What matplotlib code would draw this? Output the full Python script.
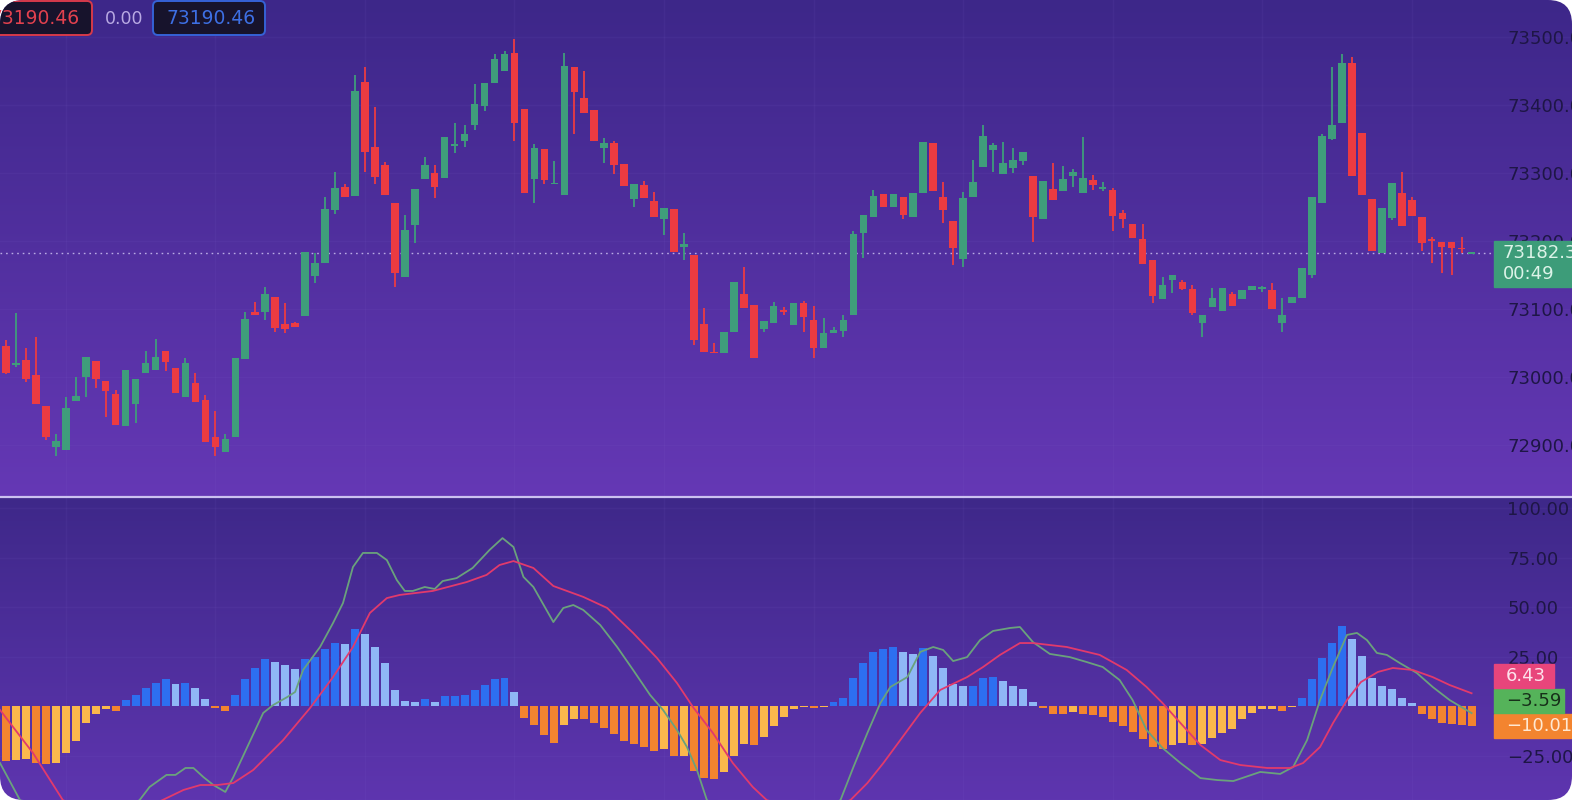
import numpy as np
import matplotlib
matplotlib.use("Agg")
import matplotlib.pyplot as plt
from matplotlib.patches import FancyBboxPatch, Rectangle
from matplotlib.ticker import FuncFormatter
from matplotlib.colors import to_rgb

# ---- candles (oldest first) ----
opens = [73046, 73017, 73025, 73003, 72957, 72897, 72893, 72965, 73000, 73024,
         72994, 72975, 72928, 72960, 73006, 73010, 73038, 73013, 72971, 72991,
         72966, 72912, 72890, 72912, 73026, 73096, 73096, 73118, 73078, 73079,
         73090, 73149, 73168, 73246, 73279, 73266, 73434, 73338, 73312, 73256,
         73147, 73224, 73291, 73300, 73293, 73340, 73347, 73371, 73399, 73432,
         73450, 73476, 73394, 73291, 73335, 73284, 73268, 73456, 73410, 73393,
         73337, 73344, 73313, 73262, 73282, 73259, 73232, 73247, 73191, 73179,
         73078, 73037, 73035, 73066, 73122, 73106, 73071, 73079, 73098, 73076,
         73109, 73084, 73043, 73065, 73068, 73091, 73212, 73235, 73269, 73250,
         73265, 73235, 73271, 73344, 73265, 73229, 73174, 73265, 73309, 73334,
         73299, 73307, 73318, 73296, 73232, 73276, 73274, 73296, 73271, 73290,
         73276, 73275, 73241, 73225, 73203, 73172, 73115, 73143, 73140, 73129,
         73079, 73103, 73097, 73122, 73115, 73128, 73130, 73128, 73079, 73109,
         73116, 73150, 73256, 73350, 73374, 73462, 73359, 73262, 73182, 73234,
         73271, 73260, 73235, 73203, 73199, 73199, 73190, 73181.5]
highs = [73054, 73094, 73043, 73059, 72957, 72916, 72971, 73000, 73029, 73024,
         72994, 72981, 73010, 72997, 73038, 73056, 73038, 73013, 73028, 73006,
         72973, 72950, 72916, 73028, 73096, 73110, 73132, 73118, 73109, 73081,
         73184, 73182, 73265, 73301, 73284, 73444, 73456, 73397, 73316, 73256,
         73238, 73276, 73324, 73312, 73353, 73374, 73371, 73431, 73432, 73475,
         73479, 73497, 73394, 73343, 73335, 73318, 73476, 73456, 73450, 73393,
         73351, 73347, 73313, 73284, 73288, 73272, 73249, 73247, 73212, 73179,
         73101, 73050, 73066, 73140, 73162, 73106, 73082, 73110, 73103, 73109,
         73112, 73104, 73087, 73074, 73091, 73215, 73238, 73275, 73269, 73269,
         73265, 73271, 73346, 73344, 73287, 73229, 73272, 73319, 73371, 73344,
         73346, 73337, 73331, 73296, 73288, 73315, 73310, 73306, 73353, 73297,
         73287, 73278, 73246, 73225, 73225, 73172, 73147, 73150, 73143, 73135,
         73091, 73131, 73131, 73125, 73128, 73134, 73134, 73138, 73116, 73118,
         73160, 73265, 73357, 73456, 73475, 73471, 73359, 73262, 73249, 73285,
         73301, 73265, 73235, 73206, 73199, 73199, 73206, 73183]
lows = [73004, 73015, 72993, 72960, 72907, 72884, 72893, 72965, 72971, 72984,
        72941, 72929, 72928, 72932, 73006, 73010, 73009, 72976, 72971, 72963,
        72904, 72884, 72890, 72912, 73026, 73091, 73084, 73066, 73065, 73073,
        73090, 73138, 73168, 73240, 73264, 73266, 73301, 73284, 73268, 73132,
        73147, 73197, 73291, 73263, 73293, 73329, 73338, 73363, 73391, 73432,
        73450, 73347, 73271, 73256, 73284, 73284, 73268, 73357, 73388, 73347,
        73315, 73299, 73281, 73250, 73263, 73235, 73209, 73184, 73172, 73047,
        73037, 73035, 73035, 73066, 73101, 73028, 73066, 73079, 73091, 73076,
        73066, 73028, 73043, 73065, 73059, 73091, 73175, 73235, 73250, 73250,
        73232, 73235, 73271, 73274, 73226, 73165, 73162, 73265, 73309, 73301,
        73299, 73300, 73312, 73199, 73232, 73260, 73274, 73279, 73271, 73275,
        73274, 73215, 73219, 73204, 73166, 73109, 73115, 73124, 73128, 73091,
        73059, 73103, 73097, 73104, 73115, 73128, 73125, 73100, 73066, 73109,
        73116, 73146, 73256, 73349, 73374, 73296, 73268, 73185, 73182, 73231,
        73222, 73237, 73185, 73168, 73153, 73150, 73182, 73181]
closes = [73006, 73020, 72997, 72960, 72912, 72906, 72954, 72972, 73029, 72997,
          72979, 72929, 73010, 72997, 73021, 73029, 73022, 72976, 73021, 72963,
          72904, 72897, 72909, 73028, 73085, 73091, 73122, 73072, 73071, 73074,
          73184, 73168, 73247, 73278, 73265, 73421, 73331, 73294, 73268, 73153,
          73216, 73276, 73312, 73279, 73353, 73343, 73357, 73401, 73432, 73468,
          73475, 73374, 73271, 73337, 73290, 73285, 73457, 73419, 73388, 73347,
          73344, 73312, 73281, 73284, 73263, 73235, 73249, 73184, 73196, 73054,
          73037, 73035, 73066, 73140, 73101, 73028, 73082, 73104, 73096, 73109,
          73088, 73043, 73065, 73069, 73084, 73210, 73238, 73266, 73250, 73269,
          73238, 73271, 73346, 73274, 73246, 73190, 73263, 73287, 73354, 73341,
          73315, 73319, 73331, 73235, 73288, 73260, 73291, 73301, 73293, 73282,
          73279, 73237, 73232, 73204, 73166, 73119, 73135, 73150, 73129, 73094,
          73091, 73116, 73131, 73104, 73128, 73134, 73133, 73100, 73091, 73118,
          73160, 73265, 73354, 73371, 73462, 73296, 73268, 73185, 73249, 73285,
          73222, 73237, 73197, 73200, 73191, 73190, 73188, 73182.3]
countdown = "00:49"
price_ticks = [72900, 73000, 73100, 73200, 73300, 73400, 73500]

# ---- MACD panel ----
hist = [-27.8, -27.5, -26.9, -28.6, -29.5, -28.6, -23.6, -17.7, -8.4, -3.9,
        -1.7, -2.5, 2.9, 5.6, 9.3, 11.8, 13.5, 10.9, 11.8, 9.3,
        3.4, -1.2, -2.5, 5.6, 13.8, 19.4, 23.6, 22.2, 20.7, 18.5,
        23.9, 24.9, 29.0, 32.0, 31.5, 39.1, 36.2, 29.8, 21.5, 8.1,
        2.7, 2.0, 3.7, 2.0, 5.1, 5.3, 5.7, 8.1, 10.4, 13.5,
        14.0, 7.2, -5.9, -9.6, -14.6, -18.5, -9.6, -6.4, -6.7, -8.4,
        -10.9, -14.0, -17.7, -19.0, -20.7, -22.7, -21.9, -25.3, -25.0, -32.8,
        -36.2, -37.0, -33.3, -25.3, -19.4, -19.9, -15.5, -10.1, -5.6, -1.7,
        -0.3, -1.2, -0.3, 2.0, 4.2, 14.0, 21.5, 27.3, 29.0, 29.8,
        27.4, 26.1, 29.1, 25.3, 19.4, 10.9, 10.1, 10.3, 14.0, 14.8,
        12.6, 10.1, 8.4, 2.0, -1.2, -3.9, -4.0, -3.0, -3.9, -4.7,
        -5.4, -8.1, -10.1, -13.0, -16.5, -20.5, -21.9, -19.9, -18.9, -19.9,
        -19.0, -16.0, -13.8, -11.4, -6.7, -3.4, -1.7, -1.3, -2.5, -0.5,
        4.2, 13.8, 24.4, 32.0, 40.4, 33.7, 25.3, 14.3, 10.1, 8.8,
        4.2, 1.3, -3.9, -6.4, -8.4, -9.3, -9.6, -10.01]
macd_x = [-0.6, 1.4, 5.4, 9.4, 13.4, 14.4, 16.1, 17.0, 18.0, 18.8, 19.8, 20.8, 22.0,
          22.8, 24.2, 25.8, 26.8, 28.2, 29.0, 29.8, 31.5, 32.8, 33.8, 34.8, 35.8,
          37.2, 38.2, 39.2, 40.0, 40.8, 42.0, 43.0, 43.8, 45.2, 46.8, 48.5, 49.8,
          50.9, 51.9, 52.9, 54.9, 55.9, 56.9, 57.9, 59.6, 61.3, 62.9, 64.6, 65.9,
          67.3, 68.3, 69.3, 70.3, 73.6, 78.6, 83.7, 85.0, 86.4, 87.7, 88.7, 90.4,
          91.7, 93.0, 94.0, 95.0, 96.4, 97.7, 99.0, 100.7, 101.7, 103.0, 104.7,
          106.7, 108.4, 110.0, 111.7, 113.0, 114.4, 116.0, 117.8, 119.8, 121.5,
          123.1, 125.8, 127.8, 129.1, 130.5, 131.8, 133.1, 134.5, 135.5, 136.5,
          137.5, 138.5, 139.8, 141.5, 143.1, 144.8, 147.0]
macd_y = [-28.8, -47.5, -58, -60, -47.5, -40.9, -34.8, -34.8, -31.3, -31.3, -35.9,
          -39.9, -43.4, -35.9, -20.7, -3.5, 0.5, 4.5, 7.1, 18.2, 29.8, 41.9, 52.0,
          70.2, 77.3, 77.3, 73.7, 63.6, 58.1, 58.1, 60.1, 59.1, 63.1, 64.6, 69.7,
          78.8, 84.8, 80.3, 65.2, 60.1, 42.4, 49.5, 51.0, 48.5, 40.9, 29.8, 18.2,
          5.6, -2.0, -12.1, -20.7, -32.3, -47.5, -58, -62, -47.5, -30.8, -13.6, 1.5,
          9.6, 14.6, 27.3, 29.8, 28.3, 22.7, 24.7, 33.3, 37.9, 39.4, 39.9, 32.3,
          26.3, 24.7, 22.2, 19.7, 13.1, 3.0, -12.1, -21.2, -28.8, -36.4, -37.4,
          -37.9, -33.3, -34.3, -30.8, -17.2, 3.0, 19.7, 35.9, 36.9, 33.3, 26.8,
          25.8, 21.7, 16.7, 9.6, 3.0, -3.59]
sig_x = [-0.6, 2.7, 5.7, 9.4, 12.4, 15.7, 17.8, 19.5, 21.2, 22.8, 24.8, 27.8, 30.5,
         32.8, 34.8, 36.5, 38.2, 39.5, 42.8, 46.2, 48.2, 49.5, 50.9, 52.9, 54.9,
         57.9, 60.3, 62.9, 65.3, 67.3, 68.9, 70.9, 72.9, 74.9, 76.3, 79.6, 82.6,
         84.7, 86.4, 88.0, 89.7, 91.7, 93.7, 96.4, 98.0, 99.7, 101.7, 103.0, 106.4,
         109.7, 112.4, 114.4, 116.0, 117.8, 119.8, 121.8, 123.8, 126.5, 128.8,
         130.1, 131.8, 133.1, 134.5, 135.9, 137.6, 139.1, 141.1, 143.1, 144.8, 147.0]
sig_y = [-2.0, -23.7, -47.5, -56, -55, -47.5, -42.4, -39.9, -39.9, -38.9, -32.3,
         -17.2, -1.0, 14.6, 29.8, 47.0, 54.5, 56.1, 58.1, 62.6, 66.2, 71.2, 73.2,
         69.7, 60.6, 55.1, 49.5, 36.9, 24.2, 11.6, -0.5, -13.6, -28.8, -40.9, -47.5,
         -53, -52, -47.5, -38.9, -28.8, -17.2, -3.5, 8.1, 14.6, 19.7, 25.8, 31.8,
         31.8, 29.8, 25.8, 18.2, 9.6, 1.5, -8.6, -19.7, -27.3, -29.8, -31.3, -31.3,
         -28.8, -20.7, -8.6, 3.0, 12.1, 17.2, 19.2, 18.2, 14.6, 10.6, 6.43]
macd_ticks = [100, 75, 50, 25, 0, -25, -50]

# header values (top-left)
header_vals = ["73190.46", "0.00", "73190.46"]

# ---- colours ----
UP, DOWN = "#3f9d7b", "#ec3b41"
H_UP, H_UP_FADE = "#2d6ff0", "#8fb7f6"
H_DN, H_DN_FADE = "#f3842f", "#fbb84c"
MACD_C, SIG_C = "#6aa27c", "#e23a6c"
LABEL_C = "#1e1646"

W, H = 1572, 800
fig = plt.figure(figsize=(W / 100, H / 100), dpi=100, facecolor="white")

# background gradient with rounded corners
bg = fig.add_axes([0, 0, 1, 1], zorder=-5)
bg.set_xlim(0, W)
bg.set_ylim(H, 0)
bg.axis("off")
grad = np.zeros((H, 1, 3))
t1 = np.linspace(0, 1, 497)[:, None]
grad[:497, 0] = (1 - t1) * np.array(to_rgb("#3d2789")) + t1 * np.array(to_rgb("#6538b5"))
t2 = np.linspace(0, 1, H - 497)[:, None]
grad[497:, 0] = (1 - t2) * np.array(to_rgb("#3e2889")) + t2 * np.array(to_rgb("#5e35af"))
frame = FancyBboxPatch((0, 0), W, H, boxstyle="round,pad=0,rounding_size=24",
                       transform=bg.transData, fc="none", ec="none")
bg.add_patch(frame)
im = bg.imshow(grad, extent=(0, W, H, 0), aspect="auto", interpolation="bilinear")
im.set_clip_path(frame)

x0 = -6 / 9.97
x1 = (W - 6) / 9.97
grid_x = np.arange(6, 148, 15)


def style(a, ticks, fmt, size):
    a.set_facecolor("none")
    for s in a.spines.values():
        s.set_visible(False)
    a.set_xlim(x0, x1)
    a.set_xticks(grid_x)
    a.tick_params(axis="x", length=0, labelbottom=False)
    a.yaxis.tick_right()
    a.set_yticks(ticks)
    a.yaxis.set_major_formatter(FuncFormatter(fmt))
    a.tick_params(axis="y", length=0, pad=-46.5, labelsize=size, labelcolor=LABEL_C)
    a.grid(True, color="#8a6fd6", alpha=0.08, lw=1)
    a.set_axisbelow(True)


# ---- price panel ----
ax = fig.add_axes([0, (H - 496) / H, 1, 496 / H])
style(ax, price_ticks, lambda v, p: f"{v:.2f}", 13)
ax.set_ylim(72825, 73554.4)

o = np.array(opens, float)
c = np.array(closes, float)
hi = np.array(highs, float)
lo = np.array(lows, float)
idx = np.arange(len(c))
col = np.where(c >= o, UP, DOWN)
ax.vlines(idx, lo, hi, colors=col, lw=1.3, zorder=2)
ax.bar(idx, np.maximum(np.abs(c - o), 1.6), bottom=np.minimum(o, c), width=0.76,
       color=col, zorder=3)
ax.axhline(c[-1], xmax=1492 / W, color="#b9aae4", lw=1, ls=(0, (1.2, 2.8)), zorder=1)

# ---- MACD panel ----
ax2 = fig.add_axes([0, 0, 1, 302 / H])
style(ax2, [t for t in macd_ticks if t != 0],
      lambda v, p: f"{v:.2f}".replace("-", "\u2212"), 13)
ax2.set_ylim(-47.47, 105.05)
hv = np.array(hist)
prev = np.concatenate([[hv[0]], hv[:-1]])
rising = hv > prev
hcol = np.where(hv >= 0, np.where(rising, H_UP, H_UP_FADE),
                np.where(rising, H_DN_FADE, H_DN))
ax2.bar(np.arange(len(hv)), hv, width=0.8, color=hcol, zorder=2)
l1, = ax2.plot(macd_x, macd_y, color=MACD_C, lw=1.3, zorder=3)
l2, = ax2.plot(sig_x, sig_y, color=SIG_C, lw=1.3, zorder=3)
for ln in (l1, l2):
    ln.set_clip_path(frame)

# ---- overlay in pixel coords ----
ov = fig.add_axes([0, 0, 1, 1], zorder=10)
ov.set_xlim(0, W)
ov.set_ylim(H, 0)
ov.axis("off")
ov.set_facecolor("none")


def px_y(a, v):
    return H - a.transData.transform((0, v))[1]


ov.hlines(497, 0, W, color="#cbc1f0", lw=1.6)

# last price label
yc = px_y(ax, c[-1])
ov.add_patch(Rectangle((1494, yc - 12), W - 1494, 46, color="#3d9c79"))
ov.text(1503, yc, f"{c[-1]:.2f}", color="#dcf3e8", fontsize=13, va="center")
ov.text(1503, yc + 21, countdown, color="#dcf3e8", fontsize=13, va="center")

# MACD value labels, stacked up from the histogram value
yh = px_y(ax2, hist[-1])
labels = [(f"{hist[-1]:.2f}", H_DN, "#ffe8d2", 78, yh),
          (f"{macd_y[-1]:.2f}", "#55b35a", "#17301a", 70, yh - 25),
          (f"{sig_y[-1]:.2f}", "#e8457b", "#fde2ec", 60, yh - 50)]
for txt, fc, tc, w, y in labels:
    ov.add_patch(Rectangle((1494, y - 12), w, 24, color=fc))
    ov.text(1506, y, txt.replace("-", "\u2212"), color=tc, fontsize=13, va="center")

# header boxes
b1 = FancyBboxPatch((-12, 1), 104, 34, boxstyle="round,pad=0,rounding_size=5",
                    fc="#17132c", ec="#d63a4a", lw=1.4)
ov.add_patch(b1)
b1.set_clip_path(frame)
t = ov.text(-10, 18.5, header_vals[0], color="#e2414e", fontsize=13.5, va="center")
t.set_clip_path(frame)
ov.text(105, 19, header_vals[1], color="#b9a9e3", fontsize=12.5, va="center")
ov.add_patch(FancyBboxPatch((153, 1), 112, 34, boxstyle="round,pad=0,rounding_size=5",
                            fc="#17132c", ec="#3562d6", lw=1.4))
ov.text(166, 18.5, header_vals[2], color="#3d6fe3", fontsize=13.5, va="center")

fig.savefig("out.png", dpi=100, facecolor="white")
